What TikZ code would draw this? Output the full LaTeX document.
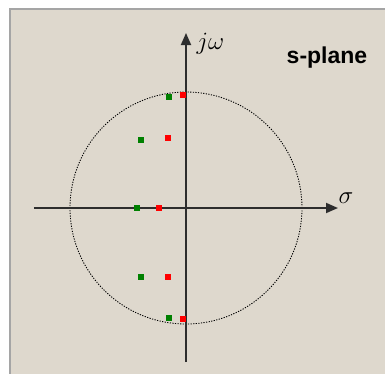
\documentclass[tikz,border=0pt]{standalone}
\usepackage{fontspec}
\setsansfont{Liberation Sans}
\definecolor{spbg}{RGB}{222,216,205}
\definecolor{spframe}{RGB}{165,165,165}
\definecolor{spaxis}{RGB}{45,45,45}
\definecolor{spred}{RGB}{255,0,0}
\definecolor{spgreen}{RGB}{0,128,0}
\usetikzlibrary{arrows.meta,positioning,calc}

\begin{document}
\begin{tikzpicture}[
  x=1pt, y=1pt,
  axis/.style={draw=spaxis, line width=1.8pt, -{Triangle[length=12pt, width=10pt]}},
  unit/.style={draw=black, line width=0.9pt, dash pattern=on 1.2pt off 1.4pt},
  pmark/.style={rectangle, inner sep=0pt, minimum size=6.5pt, fill=#1},
  alabel/.style={font=\fontsize{26}{26}\selectfont, text=black}
]
\useasboundingbox (-186,-165) rectangle (199,208);
% Background panel
\fill[spbg] (-176,-170) rectangle (204,199);
\draw[spframe, line width=1.5pt] (-176,-170) -- (-176,199) -- (204,199);

% Unit circle
\coordinate (o) at (0,0);
\draw[unit] (o) circle (116);

% Axes
\coordinate (xl) at (-152,0);
\coordinate (xr) at (152,0);
\coordinate (yb) at (0,-154);
\coordinate (yt) at (0,175);
\draw[axis] (xl) -- (xr);
\draw[axis] (yb) -- (yt);
\node[alabel, anchor=west] (sigma) at (149,10) {$\sigma$};
\node[alabel, anchor=west] (jw) at (7,164) {$j\omega$};
\node[font=\fontsize{23}{23}\selectfont\sffamily\bfseries] (title) at (141,150) {s-plane};

% Red poles
\node[pmark=spred] (r1) at (-3,113) {};
\node[pmark=spred] (r2) at (-18,70) {};
\node[pmark=spred] (r3) at (-27,0) {};
\node[pmark=spred] (r4) at (-18,-69) {};
\node[pmark=spred] (r5) at (-3,-111) {};

% Green poles
\node[pmark=spgreen] (g1) at (-17,111) {};
\node[pmark=spgreen] (g2) at (-45,68) {};
\node[pmark=spgreen] (g3) at (-49,0) {};
\node[pmark=spgreen] (g4) at (-45,-69) {};
\node[pmark=spgreen] (g5) at (-17,-110) {};
\end{tikzpicture}
\end{document}
